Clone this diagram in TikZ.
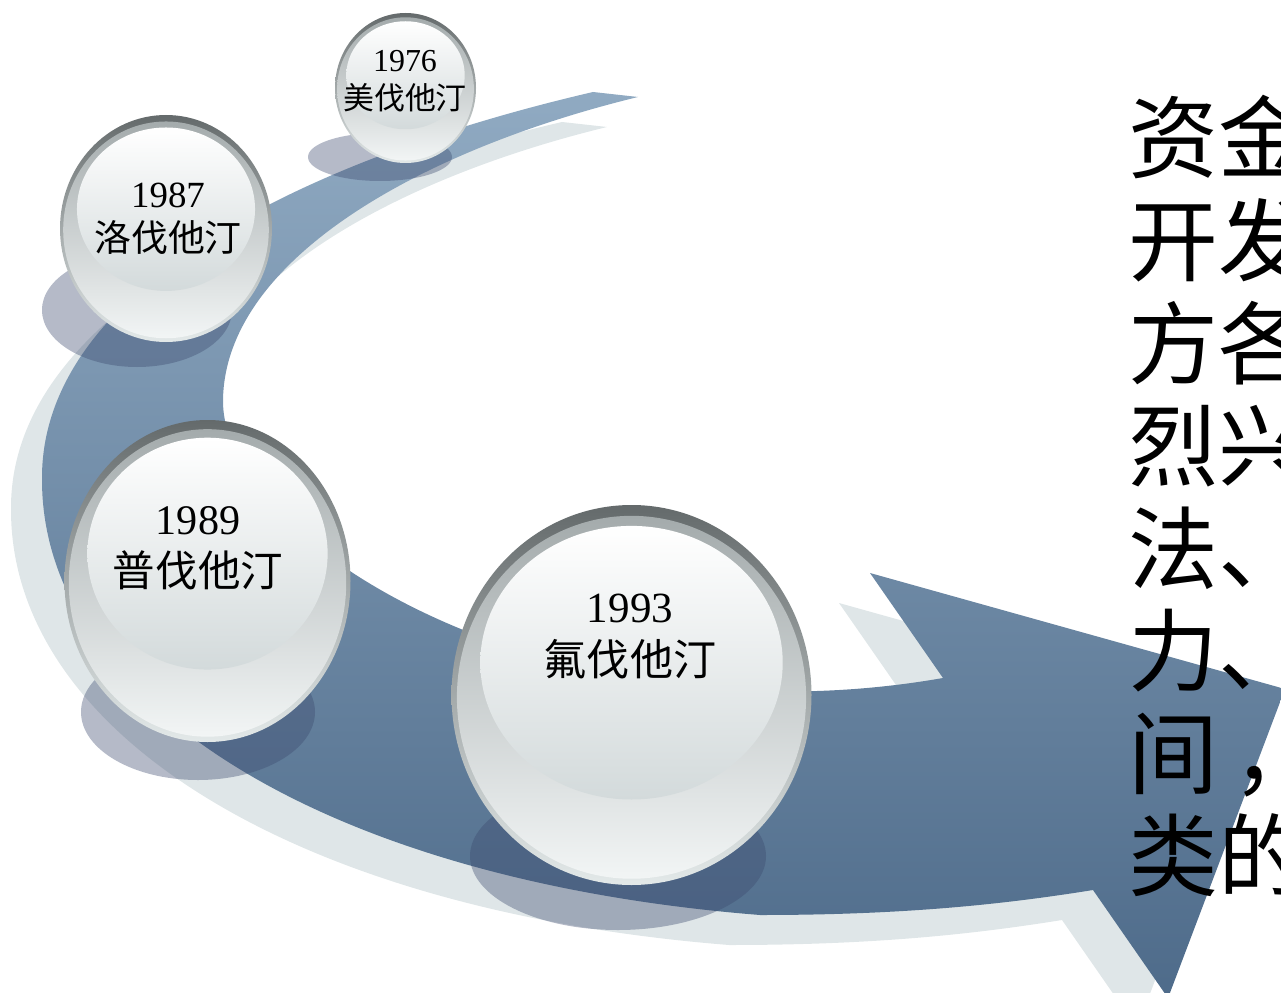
\documentclass[tikz,border=0pt]{standalone}
\usepackage{fontspec}
\setmainfont{Liberation Serif}
\newfontfamily\cjk{Noto Sans CJK SC}
\definecolor{shadowlight}{HTML}{DFE6E8}
\definecolor{arrowtop}{HTML}{90AAC2}
\definecolor{arrowbot}{HTML}{4E6B8A}
\definecolor{dropcol}{HTML}{3C4A6E}
\definecolor{rimtop}{HTML}{646A6B}
\definecolor{rimbot}{HTML}{E3E9E9}
\definecolor{ringtop}{HTML}{A4ABAC}
\definecolor{ringbot}{HTML}{F2F5F5}
\definecolor{facebot}{HTML}{D3DADB}
\def\pxu{0.02cm}
\newcommand\glassball[4]{%
  \shade[top color=rimtop,bottom color=rimbot] (#1,#2) ellipse [x radius={#3*\pxu}, y radius={#4*\pxu}];
  \shade[top color=ringtop,bottom color=ringbot] (#1,{#2+0.012*#4}) ellipse [x radius={0.97*#3*\pxu}, y radius={0.955*#4*\pxu}];
  \shade[top color=white,bottom color=facebot] (#1,{#2-0.17*#4}) ellipse [x radius={0.84*#3*\pxu}, y radius={0.72*#4*\pxu}];
}
\newcommand\dropshadow[4]{%
  \fill[dropcol,opacity=0.38] (#1,#2) ellipse [x radius={#3*\pxu}, y radius={#4*\pxu}];
}
\begin{document}
\begin{tikzpicture}[x=0.02cm,y=-0.02cm,
  yeartext/.style={inner sep=0pt,anchor=base,text=black},
  drugtext/.style={inner sep=0pt,anchor=base,text=black},
  sidetext/.style={inner sep=0pt,anchor=base west,text=black,font=\cjk\fontsize{51.2pt}{58pt}\selectfont}]
\useasboundingbox (0,0) rectangle (1281,993);
\clip (0,0) rectangle (1281,993);
% light shadow of the arrow
\begin{scope}[shift={(-31,30)}]
\fill[shadowlight] (593,92) .. controls (300,160) and (40,290) .. (42,480)
  .. controls (42,700) and (320,880) .. (760,915)
  .. controls (900,915) and (1000,905) .. (1093,890)
  -- (1168,998) -- (1285,689) -- (870,573) -- (943,678)
  .. controls (560,745) and (222,548) .. (223,400)
  .. controls (225,260) and (420,150) .. (638,97) -- cycle;
\end{scope}
% main arrow
\shade[top color=arrowtop,bottom color=arrowbot] (593,92) .. controls (300,160) and (40,290) .. (42,480)
  .. controls (42,700) and (320,880) .. (760,915)
  .. controls (900,915) and (1000,905) .. (1093,890)
  -- (1168,998) -- (1285,689) -- (870,573) -- (943,678)
  .. controls (560,745) and (222,548) .. (223,400)
  .. controls (225,260) and (420,150) .. (638,97) -- cycle;
% drop shadows
\dropshadow{380}{157}{72}{24}
\dropshadow{137}{310}{95}{57}
\dropshadow{198}{712}{117}{68}
\dropshadow{618}{856}{148}{74}
% spheres
\glassball{405.5}{88}{70.5}{75}
\glassball{166}{228.5}{106}{113.5}
\glassball{207.5}{581}{143}{161}
\glassball{631.5}{695}{180}{190}
% sphere labels
\node[yeartext,font=\fontsize{18.2pt}{20pt}\selectfont] (y1976) at (405,72) {1976};
\node[drugtext,font=\cjk\fontsize{17.6pt}{20pt}\selectfont] (n1976) at (405,110) {美伐他汀};
\node[yeartext,font=\fontsize{21pt}{24pt}\selectfont] (y1987) at (168,208) {1987};
\node[drugtext,font=\cjk\fontsize{21pt}{24pt}\selectfont] (n1987) at (168,252) {洛伐他汀};
\node[yeartext,font=\fontsize{24pt}{28pt}\selectfont] (y1989) at (198,534) {1989};
\node[drugtext,font=\cjk\fontsize{24.2pt}{28pt}\selectfont] (n1989) at (198,586) {普伐他汀};
\node[yeartext,font=\fontsize{24.5pt}{28pt}\selectfont] (y1993) at (630,622) {1993};
\node[drugtext,font=\cjk\fontsize{24.5pt}{28pt}\selectfont] (n1993) at (630,675) {氟伐他汀};
% side text (cut by the right edge)
\node[sidetext] (r1) at (1128,172) {资金};
\node[sidetext] (r2) at (1128,274.5) {开发};
\node[sidetext] (r3) at (1128,377) {方各};
\node[sidetext] (r4) at (1128,479.5) {烈兴};
\node[sidetext] (r5) at (1128,582) {法、};
\node[sidetext] (r6) at (1128,684.5) {力、};
\node[sidetext] (r7) at (1128,787) {间\kern8pt，};
\node[sidetext] (r8) at (1128,889.5) {类的};
\end{tikzpicture}
\end{document}
